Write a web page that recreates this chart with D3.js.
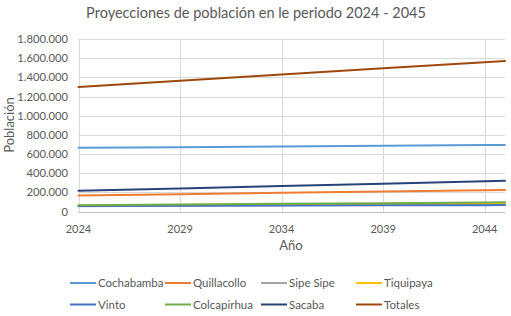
<!DOCTYPE html>
<html>
<head>
<meta charset="utf-8">
<script src="https://cdn.jsdelivr.net/npm/d3@7"></script>
<style>
  body { margin: 0; background: #fff; }
  svg { display: block; font-family: Lato, "Open Sans", sans-serif; }
</style>
</head>
<body>
<svg id="chart"></svg>
<script>
// years read at the gridlines plus the last year
const years = [2024, 2029, 2034, 2039, 2044, 2045];
const xTicks = [2024, 2029, 2034, 2039, 2044];
const yTicks = [0, 200000, 400000, 600000, 800000, 1000000, 1200000, 1400000, 1600000, 1800000];

const cochabamba  = [664000, 671000, 679000, 686000, 693000, 695000];
const quillacollo = [168000, 181000, 195000, 209000, 221000, 224000];
const sipeSipe    = [55000, 59000, 64000, 69000, 74000, 76000];
const tiquipaya   = [62000, 67000, 73000, 78000, 84000, 86000];
const vinto       = [58000, 60000, 62000, 64000, 66000, 67000];
const colcapirhua = [66000, 73000, 80000, 87000, 95000, 97000];
const sacaba      = [217000, 240000, 265000, 290000, 316000, 321000];
const totales     = [1300000, 1364000, 1429000, 1494000, 1558000, 1571000];

const seriesNames = ["Cochabamba", "Quillacollo", "Sipe Sipe", "Tiquipaya", "Vinto", "Colcapirhua", "Sacaba", "Totales"];
const seriesValues = [cochabamba, quillacollo, sipeSipe, tiquipaya, vinto, colcapirhua, sacaba, totales];
const colors = ["#5B9BD5", "#ED7D31", "#A5A5A5", "#FFC000", "#4472C4", "#70AD47", "#264478", "#9E480E"];

const width = 511, height = 316;
const plot = { left: 78.5, right: 505, top: 39, bottom: 211.5 };

const svg = d3.select("#chart").attr("width", width).attr("height", height);

const x = d3.scaleLinear().domain([2024, 2045]).range([plot.left, plot.right]);
const y = d3.scaleLinear().domain([0, 1800000]).range([plot.bottom, plot.top]);

const locale = d3.formatLocale({ decimal: ",", thousands: ".", grouping: [3], currency: ["", ""] });
const fmt = locale.format(",d");

// title
svg.append("text")
  .attr("x", 256).attr("y", 18)
  .attr("text-anchor", "middle")
  .attr("font-size", 14.5)
  .attr("fill", "#595959")
  .text("Proyecciones de población en le periodo 2024 - 2045");

// horizontal gridlines
svg.append("g")
  .selectAll("line")
  .data(yTicks.slice(1))
  .join("line")
  .attr("x1", plot.left).attr("x2", plot.right)
  .attr("y1", d => Math.round(y(d)) + 0.5).attr("y2", d => Math.round(y(d)) + 0.5)
  .attr("stroke", "#d9d9d9");

// vertical gridlines
svg.append("g")
  .selectAll("line")
  .data(xTicks)
  .join("line")
  .attr("x1", d => Math.round(x(d)) + 0.5).attr("x2", d => Math.round(x(d)) + 0.5)
  .attr("y1", plot.top).attr("y2", plot.bottom)
  .attr("stroke", "#d9d9d9");

// x baseline
svg.append("line")
  .attr("x1", plot.left).attr("x2", plot.right)
  .attr("y1", Math.round(y(0)) + 0.5).attr("y2", Math.round(y(0)) + 0.5)
  .attr("stroke", "#bfbfbf");

// y tick labels
svg.append("g")
  .selectAll("text")
  .data(yTicks)
  .join("text")
  .attr("x", 68).attr("y", d => y(d) + 4)
  .attr("text-anchor", "end")
  .attr("font-size", 11.2)
  .attr("fill", "#595959")
  .text(d => fmt(d));

// x tick labels
svg.append("g")
  .selectAll("text")
  .data(xTicks)
  .join("text")
  .attr("x", d => x(d)).attr("y", 233)
  .attr("text-anchor", "middle")
  .attr("font-size", 11)
  .attr("fill", "#595959")
  .text(d => d);

// axis titles
svg.append("text")
  .attr("x", 291).attr("y", 250)
  .attr("text-anchor", "middle")
  .attr("font-size", 13)
  .attr("fill", "#595959")
  .text("Año");

svg.append("text")
  .attr("transform", "translate(14,125) rotate(-90)")
  .attr("text-anchor", "middle")
  .attr("font-size", 13)
  .attr("fill", "#595959")
  .text("Población");

// lines
const line = d3.line().x((d, i) => x(years[i])).y(d => y(d));
svg.append("g")
  .selectAll("path")
  .data(seriesValues)
  .join("path")
  .attr("d", d => line(d))
  .attr("fill", "none")
  .attr("stroke", (d, i) => colors[i])
  .attr("stroke-width", 2)
  .attr("stroke-linecap", "round");

// legend
const legX = [70, 165, 261, 356];
const legY = [283, 304.5];
const legend = svg.append("g")
  .selectAll("g")
  .data(seriesNames)
  .join("g")
  .attr("transform", (d, i) => `translate(${legX[i % 4]},${legY[Math.floor(i / 4)]})`);

legend.append("line")
  .attr("x1", 0).attr("x2", 26)
  .attr("stroke", (d, i) => colors[i])
  .attr("stroke-width", 2);

legend.append("text")
  .attr("x", 28).attr("y", 4)
  .attr("font-size", 11.5)
  .attr("fill", "#595959")
  .text(d => d);
</script>
</body>
</html>
